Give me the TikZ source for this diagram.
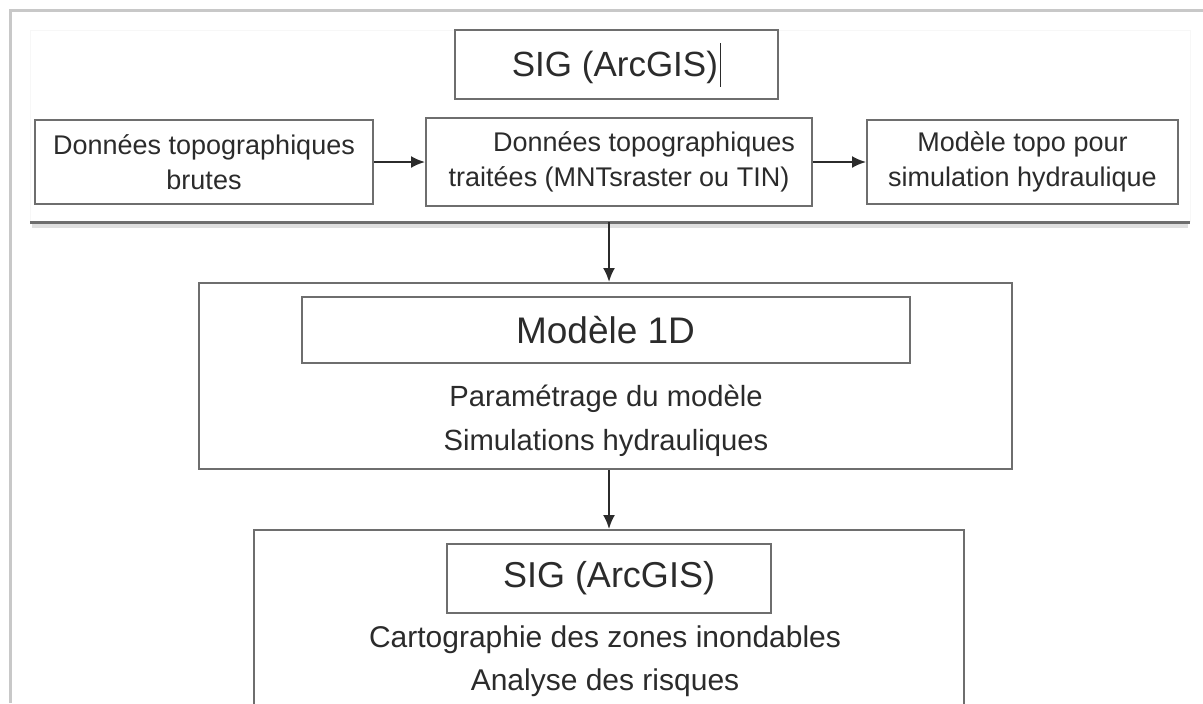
\documentclass[tikz,border=0pt]{standalone}
\usepackage{fontspec}
\setmainfont{Liberation Sans}
\usetikzlibrary{positioning,arrows.meta}
\definecolor{BoxGray}{HTML}{6E6E6E}
\definecolor{InkGray}{HTML}{2B2B2B}
\definecolor{FrameGray}{HTML}{C8C8C8}

\begin{document}
\begin{tikzpicture}[x=0.5pt,y=-0.5pt,>={Latex[length=7pt,width=6pt]},
                    box/.style={draw=BoxGray, line width=1pt, inner sep=0pt, align=center, text=InkGray},
                    rowbox/.style={box, minimum height=42pt, font=\fontsize{13.5}{17.5}\selectfont},
                    titlebox/.style={box, minimum height=34.5pt, font=\fontsize{17.5}{21}\selectfont},
                    tasks/.style={inner sep=0pt, align=center, text=InkGray},
                    link/.style={draw=InkGray, line width=1pt}]
\useasboundingbox (0,0) rectangle (1203,703);
% page frame and pasted screenshot
\draw[FrameGray, line width=1.5pt] (10,703) -- (10,10) -- (1203,10);
\draw[gray!6, line width=0.5pt] (30,222) -- (30,30) -- (1190,30) -- (1190,222);
\draw[gray!25, line width=2pt] (32,226) -- (1188,226);
\draw[BoxGray, line width=1.5pt] (30,222) -- (1190,222);

\node[titlebox, minimum width=161.5pt] (sigtop) at (616.5,64.5) {SIG (ArcGIS)\hspace{1pt}\rule[-5pt]{0.6pt}{22pt}};
\node[rowbox, minimum width=169pt] (brutes) at (204,162) {Données topographiques\\brutes};
\node[rowbox, minimum width=193pt, minimum height=44pt, right=25.5pt of brutes] (traitees) {\hspace*{25pt}Données topographiques\\traitées (MNTsraster ou TIN)};
\node[rowbox, minimum width=155.5pt, right=26.5pt of traitees] (topo) {Modèle topo pour\\simulation hydraulique};
\draw[->, link] (brutes) -- (traitees);
\draw[->, link] (traitees) -- (topo);

\node[box, minimum width=406.5pt, minimum height=93pt] (model) at (605.5,376) {};
\node[titlebox, minimum width=304pt, minimum height=33pt, font=\fontsize{18.5}{22}\selectfont,
      below=7pt of model.north] (m1d) {Modèle 1D};
\node[tasks, font=\fontsize{14.6}{22}\selectfont] (tasks1) at (606,421) {Paramétrage du modèle\\Simulations hydrauliques};

\node[box, minimum width=355pt, minimum height=100pt] (carto) at (609,630) {};
\node[titlebox, minimum width=162pt, font=\fontsize{18}{22}\selectfont,
      below=7pt of carto.north] (sigbot) {SIG (ArcGIS)};
\node[tasks, font=\fontsize{15}{21.5}\selectfont] (tasks2) at (605,661.5) {Cartographie des zones inondables\\Analyse des risques};

\coordinate (split) at (609,222);
\draw[->, link] (split) -- (split |- model.north);
\draw[->, link] (model.south -| split) -- (carto.north -| split);
\end{tikzpicture}
\end{document}
